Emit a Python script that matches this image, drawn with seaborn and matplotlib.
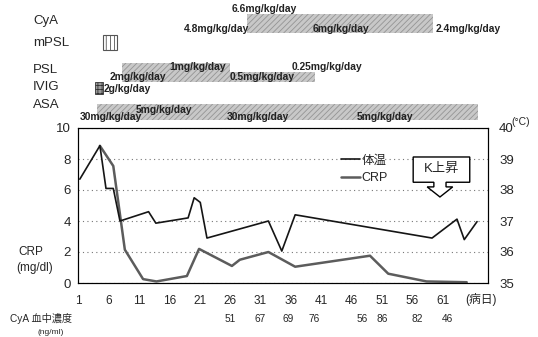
import seaborn as sns
import matplotlib.pyplot as plt
import matplotlib.patches as mpatches
from matplotlib.lines import Line2D

# body temperature (deg C) per hospital day
temp_day = [1.3, 4.6, 5.6, 6.8, 7.9, 12.6, 13.8, 19.1, 20.1, 21.1, 22.2, 32.3, 34.5, 36.7, 59.2, 63.3, 64.5, 66.6]
temp_val = [38.35, 39.43, 38.05, 38.05, 37.0, 37.3, 36.93, 37.1, 37.75, 37.6, 36.45, 37.0, 36.03, 37.2, 36.45, 37.06, 36.4, 36.98]

# CRP (mg/dl) per hospital day
crp_day = [4.6, 6.8, 8.7, 11.7, 13.9, 18.9, 20.9, 26.3, 27.6, 32.3, 36.7, 49.0, 52.0, 58.3, 64.9]
crp_val = [8.85, 7.55, 2.15, 0.25, 0.1, 0.45, 2.2, 1.1, 1.5, 2.0, 1.05, 1.76, 0.6, 0.1, 0.05]

# CyA blood level (ng/ml)
cya_day = [26, 31, 35.5, 39.8, 47.7, 51, 56.7, 61.8]
cya_level = [51, 67, 69, 76, 56, 86, 82, 46]

# treatment periods (hospital days)
drug_rows = ["CyA", "mPSL", "PSL", "IVIG", "ASA"]
seg_drug = ["CyA", "mPSL", "PSL", "PSL", "IVIG", "ASA"]
seg_start = [28.8, 5.1, 8.2, 26.0, 3.8, 4.1]
seg_end = [59.4, 7.4, 26.0, 40.0, 5.1, 66.8]

dose_text = ["6.6mg/kg/day", "4.8mg/kg/day", "6mg/kg/day", "2.4mg/kg/day",
             "1mg/kg/day", "0.25mg/kg/day", "2mg/kg/day", "0.5mg/kg/day",
             "2g/kg/day", "5mg/kg/day", "30mg/kg/day", "30mg/kg/day", "5mg/kg/day"]
dose_day = [31.6, 23.7, 44.2, 65.1, 20.7, 41.9, 10.9, 31.2, 9.1, 15.1, 6.4, 30.6, 51.5]

sns.set_style("white")
plt.rcParams['font.family'] = ['Liberation Sans', 'Noto Sans CJK JP', 'DejaVu Sans']
plt.rcParams['hatch.linewidth'] = 0.6

W, H = 538, 337
L, R, T, B = 78, 488, 128, 283
fig = plt.figure(figsize=(W / 100, H / 100), dpi=100)
ax = fig.add_axes([L / W, 1 - B / H, (R - L) / W, (B - T) / H])
ax2 = ax.twinx()
top = fig.add_axes([L / W, 1 - T / H, (R - L) / W, T / H], sharex=ax)

temp_color = '#151515'
crp_color = '#5c5c5c'
sns.lineplot(x=crp_day, y=crp_val, ax=ax, color=crp_color, lw=1.8, legend=False)
sns.lineplot(x=temp_day, y=temp_val, ax=ax2, color=temp_color, lw=1.2, legend=False)

ax.set_ylim(0, 10)
ax.set_yticks(range(0, 11, 2))
ax2.set_ylim(35, 40)
ax2.set_yticks(range(35, 41))
ax.set_xticks(range(1, 62, 5))
ax.grid(axis='y', linestyle=(0, (1, 3)), color='#777777', lw=0.8)
ax.tick_params(axis='y', length=0, labelsize=9.5, pad=5)
ax.tick_params(axis='x', length=0, labelsize=8.5, pad=9)
ax2.tick_params(axis='y', length=0, labelsize=9.5, pad=8)
ax.set_xlabel("")
ax.set_ylabel("")
ax2.set_ylabel("")
for a in (ax, ax2):
    for s in a.spines.values():
        s.set_color('black')
        s.set_linewidth(0.8)

# legend
handles = [Line2D([], [], color=temp_color, lw=1.2), Line2D([], [], color=crp_color, lw=1.8)]
ax2.legend(handles, ["体温", "CRP"], loc='upper left', bbox_to_anchor=(0.615, 0.9),
           frameon=False, handlelength=1.5, handletextpad=0.1, labelspacing=0.45, fontsize=9)

# callout box "K上昇"
callout = [(56.1, 8.13), (65.4, 8.13), (65.4, 6.5), (61.5, 6.5), (61.5, 6.2), (62.6, 6.2),
           (60.5, 5.55), (58.4, 6.2), (59.5, 6.2), (59.5, 6.5), (56.1, 6.5)]
ax.add_patch(mpatches.Polygon(callout, closed=True, facecolor='white', edgecolor='black', lw=1.0, zorder=5))
ax.text(60.75, 7.33, "K上昇", ha='center', va='center', fontsize=9.5, zorder=6)

# treatment bars
row_y = {"CyA": (23.5, 19), "mPSL": (42.5, 15), "PSL": (72.5, 19), "IVIG": (88, 12), "ASA": (112, 16)}
row_label_y = {"CyA": 21, "mPSL": 43, "PSL": 70, "IVIG": 87, "ASA": 105}
for i, (d, s, e) in enumerate(zip(seg_drug, seg_start, seg_end)):
    yc, h = row_y[d]
    if d == "PSL" and i == 3:
        yc, h = 77, 10
    if d == "mPSL":
        top.barh(yc, e - s, left=s, height=h, facecolor='white', edgecolor='#555555', hatch='||||', lw=0.8)
    elif d == "IVIG":
        top.barh(yc, e - s, left=s, height=h, facecolor='#9a9a9a', edgecolor='#333333', hatch='++++', lw=0.6)
    else:
        top.barh(yc, e - s, left=s, height=h, facecolor='#c8c8c8', edgecolor='#949494', hatch='//////', lw=0)

dose_y = [9, 29, 29, 29, 67, 67, 77, 77, 89, 110, 117, 117, 117]
for txt, d, y in zip(dose_text, dose_day, dose_y):
    top.text(d, y, txt, ha='center', va='center', fontsize=7.4, fontweight='bold', color='#222222')

for d in drug_rows:
    fig.text(33 / W, 1 - row_label_y[d] / H, d, fontsize=9.5, va='center', ha='left')

top.set_ylim(128, 0)
top.axis('off')
ax.set_xlim(1, 68.4)

# axis annotations
fig.text(18 / W, 1 - 252 / H, "CRP", fontsize=8.5, va='center', ha='left')
fig.text(16 / W, 1 - 268 / H, "(mg/dl)", fontsize=8.5, va='center', ha='left')
fig.text(511 / W, 1 - 122 / H, "(°C)", fontsize=7.5, va='center', ha='left')
fig.text(465 / W, 1 - 300 / H, "(病日)", fontsize=8.5, va='center', ha='left')

# CyA blood levels
fig.text(10 / W, 1 - 319 / H, "CyA 血中濃度", fontsize=7.3, va='center', ha='left')
fig.text(37 / W, 1 - 332 / H, "(ng/ml)", fontsize=6, va='center', ha='left')
for d, v in zip(cya_day, cya_level):
    ax.text(d, -0.232, str(v), transform=ax.get_xaxis_transform(), ha='center', va='center', fontsize=7.3)

fig.savefig("out.png", dpi=100)
